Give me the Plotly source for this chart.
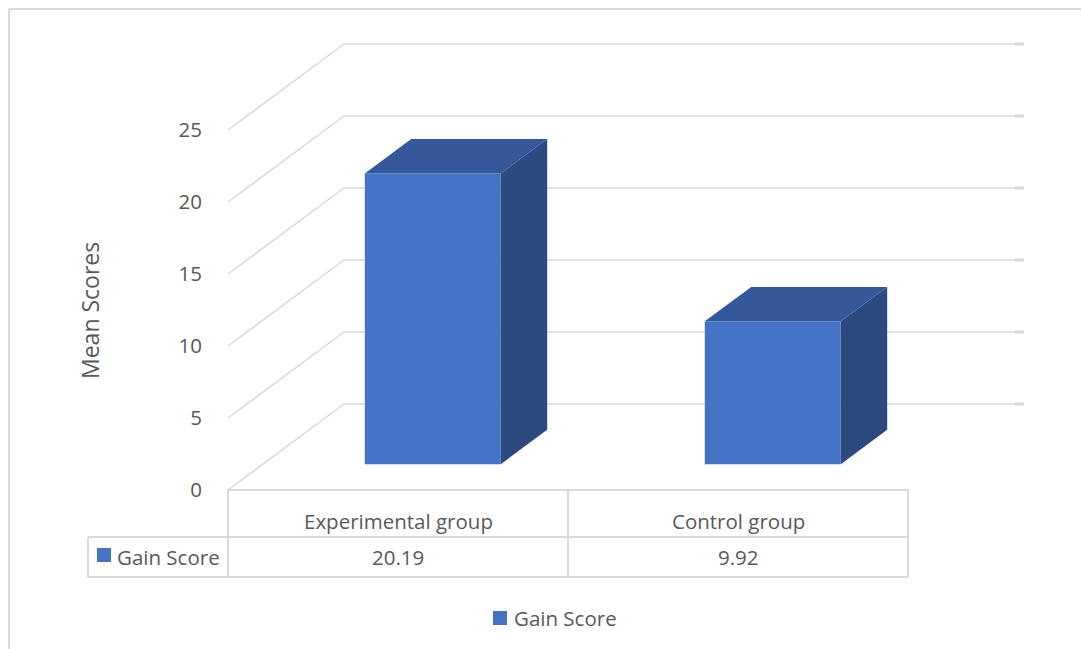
import plotly.graph_objects as go

# ---- data -------------------------------------------------------------
categories = ["Experimental group", "Control group"]
gain_score = [20.19, 9.92]
y_ticks = [0, 5, 10, 15, 20, 25]
series_name = "Gain Score"

# ---- geometry of the oblique 3-D projection ---------------------------
W, H = 1081, 649
PX_CAT = 340            # pixels per category slot
PX_VAL = 14.4           # pixels per value unit
ORIGIN_X, ORIGIN_Y = 228, 490   # front-left floor corner (px)
DEPTH_DX = 116 / PX_CAT         # full-depth shift, category units
DEPTH_DY = 86 / PX_VAL          # full-depth shift, value units
BAR_W = 0.4
BAR_Z0, BAR_Z1 = 0.3, 0.7

GRID = "#D9D9D9"
TEXT = "#595959"
FRONT, TOP, SIDE = "#4472C4", "#34589A", "#2C4A80"
FONT = "Open Sans"


def proj(c, v, z):
    return c + z * DEPTH_DX, v + z * DEPTH_DY


def px_x(px):
    return px / W


def px_y(py):
    return 1 - py / H


fig = go.Figure()

# walls: left-wall diagonals and back-wall horizontals
n_cat = len(categories)
gx, gy = [], []
for v in y_ticks:
    for a, b in [((0, v, 0), (0, v, 1)), ((0, v, 1), (n_cat, v, 1))]:
        x0, y0 = proj(*a)
        x1, y1 = proj(*b)
        gx += [x0, x1, None]
        gy += [y0, y1, None]
fig.add_trace(go.Scatter(x=gx, y=gy, mode="lines", line=dict(color=GRID, width=1.5),
                         hoverinfo="skip", showlegend=False))
# short stubs at the right end of back-wall lines
sx, sy = [], []
for v in y_ticks:
    x0, y0 = proj(n_cat - 0.027, v, 1)
    x1, y1 = proj(n_cat, v, 1)
    sx += [x0, x1, None]
    sy += [y0, y1, None]
fig.add_trace(go.Scatter(x=sx, y=sy, mode="lines", line=dict(color=GRID, width=3),
                         hoverinfo="skip", showlegend=False))


def face(points, color):
    xs, ys = zip(*[proj(*p) for p in points])
    fig.add_trace(go.Scatter(x=list(xs) + [xs[0]], y=list(ys) + [ys[0]], mode="lines",
                             fill="toself", fillcolor=color, line=dict(width=0, color=color),
                             hoverinfo="skip", showlegend=False))


for i, val in enumerate(gain_score):
    c0 = i + 0.5 - BAR_W / 2
    c1 = i + 0.5 + BAR_W / 2
    # right side
    face([(c1, 0, BAR_Z0), (c1, 0, BAR_Z1), (c1, val, BAR_Z1), (c1, val, BAR_Z0)], SIDE)
    # top
    face([(c0, val, BAR_Z0), (c1, val, BAR_Z0), (c1, val, BAR_Z1), (c0, val, BAR_Z1)], TOP)
    # front
    face([(c0, 0, BAR_Z0), (c1, 0, BAR_Z0), (c1, val, BAR_Z0), (c0, val, BAR_Z0)], FRONT)

# ---- data table under the plot -----------------------------------------
ROW_TOP, ROW_MID, ROW_BOT = 490, 537, 577
LABEL_LEFT = (88 - ORIGIN_X) / PX_CAT
tbl = dict(type="line", line=dict(color=GRID, width=2), xref="x", yref="paper")
shapes = [
    dict(tbl, x0=0, x1=n_cat, y0=px_y(ROW_TOP), y1=px_y(ROW_TOP)),
    dict(tbl, x0=LABEL_LEFT, x1=n_cat, y0=px_y(ROW_MID), y1=px_y(ROW_MID)),
    dict(tbl, x0=LABEL_LEFT, x1=n_cat, y0=px_y(ROW_BOT), y1=px_y(ROW_BOT)),
    dict(tbl, x0=LABEL_LEFT, x1=LABEL_LEFT, y0=px_y(ROW_MID), y1=px_y(ROW_BOT)),
]
for k in range(n_cat + 1):
    shapes.append(dict(tbl, x0=k, x1=k, y0=px_y(ROW_TOP), y1=px_y(ROW_BOT)))

# outer chart border
shapes.append(dict(type="line", xref="paper", yref="paper", x0=px_x(9), x1=1,
                   y0=px_y(9), y1=px_y(9), line=dict(color=GRID, width=2)))
shapes.append(dict(type="line", xref="paper", yref="paper", x0=px_x(9), x1=px_x(9),
                   y0=px_y(9), y1=0, line=dict(color=GRID, width=2)))

# legend keys (table row + bottom legend)
for (lx, ly) in [(97, 548), (493, 611)]:
    shapes.append(dict(type="rect", xref="paper", yref="paper",
                       x0=px_x(lx), x1=px_x(lx + 14), y0=px_y(ly), y1=px_y(ly + 14),
                       fillcolor=FRONT, line=dict(width=0)))

annotations = []
f = dict(family=FONT, size=20.5, color=TEXT)
for i, (cat, val) in enumerate(zip(categories, gain_score)):
    annotations.append(dict(x=i + 0.5, y=px_y((ROW_TOP + ROW_MID) / 2 + 7), xref="x", yref="paper",
                            text=cat, showarrow=False, font=f, xanchor="center", yanchor="middle"))
    annotations.append(dict(x=i + 0.5, y=px_y((ROW_MID + ROW_BOT) / 2), xref="x", yref="paper",
                            text=f"{val:.2f}", showarrow=False, font=f, xanchor="center",
                            yanchor="middle"))
annotations.append(dict(x=px_x(115), y=px_y((ROW_MID + ROW_BOT) / 2), xref="paper", yref="paper",
                        text=series_name, showarrow=False, font=f, xanchor="left", yanchor="middle"))
annotations.append(dict(x=px_x(512), y=px_y(618), xref="paper", yref="paper",
                        text=series_name, showarrow=False, font=f, xanchor="left", yanchor="middle"))
annotations.append(dict(x=px_x(90), y=px_y(311), xref="paper", yref="paper", text="Mean Scores",
                        textangle=-90, showarrow=False, xanchor="center", yanchor="middle",
                        font=dict(family=FONT, size=23, color=TEXT)))

fig.update_layout(
    width=W, height=H,
    margin=dict(l=0, r=0, t=0, b=0),
    paper_bgcolor="white", plot_bgcolor="white",
    showlegend=False,
    shapes=shapes, annotations=annotations,
    xaxis=dict(range=[-ORIGIN_X / PX_CAT, (W - ORIGIN_X) / PX_CAT], visible=False, fixedrange=True),
    yaxis=dict(range=[(ORIGIN_Y - H) / PX_VAL, ORIGIN_Y / PX_VAL], tickvals=y_ticks,
               showgrid=False, zeroline=False, showline=False,
               ticks="outside", ticklen=22, tickcolor="rgba(0,0,0,0)",
               tickfont=dict(family=FONT, size=20.5, color=TEXT),
               anchor="free", position=ORIGIN_X / W, side="left", fixedrange=True),
)

fig.write_html("out.html")
